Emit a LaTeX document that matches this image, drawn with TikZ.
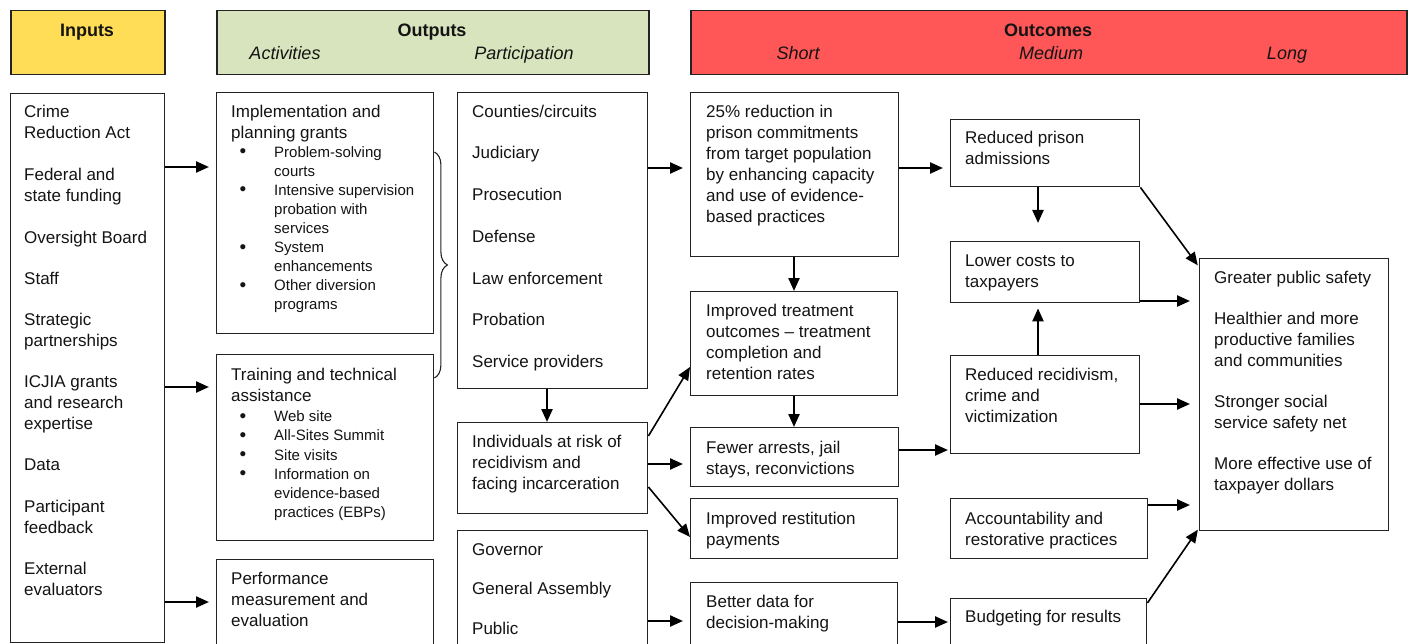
\documentclass[tikz,border=0pt]{standalone}
\usepackage{fontspec}
\setmainfont{Liberation Sans}
\usetikzlibrary{arrows.meta,decorations.pathreplacing}
\definecolor{hdryellow}{RGB}{255,221,87}
\definecolor{hdrgreen}{RGB}{215,228,189}
\definecolor{hdrred}{RGB}{255,87,87}
\definecolor{edge}{RGB}{35,35,35}
\definecolor{ink}{RGB}{20,20,20}
\tikzset{
 box/.style={draw=edge, line width=1.4pt, anchor=north west, inner sep=0pt, fill=white},
 hdr/.style={box, line width=1.5pt},
 txt/.style={anchor=north west, inner sep=0pt, align=left, text=ink, font=\fontsize{17}{21}\selectfont},
 btxt/.style={txt, font=\fontsize{15}{19}\selectfont},
 btxtb/.style={txt, font=\fontsize{15}{19.2}\selectfont},
 dot/.style={anchor=base, inner sep=0pt, text=ink, font=\fontsize{19}{19}\selectfont},
 htitle/.style={anchor=base, inner sep=0pt, text=ink, font=\fontsize{18}{22}\selectfont\bfseries},
 hsub/.style={anchor=base, inner sep=0pt, text=ink, font=\fontsize{18}{22}\selectfont\itshape},
 arr/.style={draw=black, line width=2.3pt, -{Triangle[length=13pt,width=11pt]}},
 darr/.style={arr, line width=1.6pt},
}
\begin{document}
\begin{tikzpicture}[x=1pt,y=-1pt]
\useasboundingbox (0,0) rectangle (1412,644);
\fill[white] (0,0) rectangle (1412,644);
\clip (0,0) rectangle (1412,644);

% headers
\node[hdr, fill=hdryellow, minimum width=154pt, minimum height=64pt] (hin) at (10,10) {};
\node[hdr, fill=hdrgreen, minimum width=432pt, minimum height=64pt] (hout) at (216,10) {};
\node[hdr, fill=hdrred, minimum width=716pt, minimum height=64pt] (hoc) at (690,10) {};
\node[htitle] (tin) at (87,37) {Inputs};
\node[htitle] (tout) at (432,37) {Outputs};
\node[htitle] (toc) at (1048,37) {Outcomes};
\node[hsub] (sact) at (285,60) {Activities};
\node[hsub] (spart) at (524,60) {Participation};
\node[hsub] (sshort) at (798,60) {Short};
\node[hsub] (smed) at (1051,60) {Medium};
\node[hsub] (slong) at (1287,60) {Long};

% boxes
\node[box, minimum width=154pt, minimum height=549pt] (inputs) at (10,93) {};
\node[box, minimum width=217pt, minimum height=241pt] (impl) at (216,92) {};
\node[box, minimum width=217pt, minimum height=186pt] (train) at (216,354) {};
\node[box, minimum width=217pt, minimum height=120pt] (perf) at (216,559) {};
\node[box, minimum width=190pt, minimum height=296pt] (part) at (457,92) {};
\node[box, minimum width=190pt, minimum height=91pt] (indiv) at (457,422) {};
\node[box, minimum width=190pt, minimum height=150pt] (gov) at (457,530) {};
\node[box, minimum width=208pt, minimum height=164pt] (red25) at (690,92) {};
\node[box, minimum width=207pt, minimum height=104pt] (imptreat) at (690,291) {};
\node[box, minimum width=208pt, minimum height=59pt] (fewer) at (690,427) {};
\node[box, minimum width=207pt, minimum height=60pt] (restit) at (690,498) {};
\node[box, minimum width=207pt, minimum height=100pt] (better) at (690,582) {};
\node[box, minimum width=189pt, minimum height=67pt] (redprison) at (950,119) {};
\node[box, minimum width=189pt, minimum height=61pt] (lower) at (950,241) {};
\node[box, minimum width=189pt, minimum height=98pt] (redrecid) at (950,355) {};
\node[box, minimum width=197pt, minimum height=60pt] (account) at (950,498) {};
\node[box, minimum width=196pt, minimum height=80pt] (budget) at (950,598) {};
\node[box, minimum width=189pt, minimum height=272pt] (long) at (1199,258) {};

% texts
\node[txt] (inputsT) at (24,102.3) {\strut Crime\\Reduction Act\\[21pt]Federal and\\state funding\\[21pt]Oversight Board\\[20pt]Staff\\[20pt]Strategic\\partnerships\\[20pt]ICJIA grants\\and research\\expertise\\[20pt]Data\\[21pt]Participant\\feedback\\[20pt]External\\evaluators};

\node[txt] (implT) at (231,102.3) {\strut Implementation and\\planning grants};
\node[btxt] (implB) at (274,144) {\strut Problem-solving\\courts\\Intensive supervision\\probation with\\services\\System\\enhancements\\Other diversion\\programs};
\node[dot] (d1) at (243,158) {•};
\node[dot] (d2) at (243,196) {•};
\node[dot] (d3) at (243,253) {•};
\node[dot] (d4) at (243,291) {•};

\node[txt] (trainT) at (231,365.3) {\strut Training and technical\\assistance};
\node[btxtb] (trainB) at (274,408) {\strut Web site\\All-Sites Summit\\Site visits\\Information on\\evidence-based\\practices (EBPs)};
\node[dot] (d5) at (243,422) {•};
\node[dot] (d6) at (243,441.2) {•};
\node[dot] (d7) at (243,460.4) {•};
\node[dot] (d8) at (243,479.6) {•};

\node[txt] (perfT) at (231,569.3) {\strut Performance\\measurement and\\evaluation};

\node[txt] (partT) at (472,102.3) {\strut Counties/circuits\\[20.7pt]Judiciary\\[20.7pt]Prosecution\\[20.7pt]Defense\\[20.7pt]Law enforcement\\[20.7pt]Probation\\[20.7pt]Service providers};
\node[txt] (indivT) at (472,432.3) {\strut Individuals at risk of\\recidivism and\\facing incarceration};
\node[txt] (govT) at (472,540.3) {\strut Governor\\[18.5pt]General Assembly\\[18.5pt]Public};

\node[txt] (red25T) at (706,102.3) {\strut 25\% reduction in\\prison commitments\\from target population\\by enhancing capacity\\and use of evidence-\\based practices};
\node[txt] (imptreatT) at (706,301.3) {\strut Improved treatment\\outcomes – treatment\\completion and\\retention rates};
\node[txt] (fewerT) at (706,438.3) {\strut Fewer arrests, jail\\stays, reconvictions};
\node[txt] (restitT) at (706,509.3) {\strut Improved restitution\\payments};
\node[txt] (betterT) at (706,592.3) {\strut Better data for\\decision-making};

\node[txt] (redprisonT) at (965,128.3) {\strut Reduced prison\\admissions};
\node[txt] (lowerT) at (965,251.3) {\strut Lower costs to\\taxpayers};
\node[txt] (redrecidT) at (965,365.3) {\strut Reduced recidivism,\\crime and\\victimization};
\node[txt] (accountT) at (965,509.3) {\strut Accountability and\\restorative practices};
\node[txt] (budgetT) at (965,607.3) {\strut Budgeting for results};

\node[txt] (longT) at (1214,268.3) {\strut Greater public safety\\[20pt]Healthier and more\\productive families\\and communities\\[20pt]Stronger social\\service safety net\\[20pt]More effective use of\\taxpayer dollars};

% brace
\draw[draw=edge, line width=1.1pt, decorate, decoration={brace, amplitude=13pt}] (impl.east |- 0,152) -- (impl.east |- 0,378);

% connectors
\draw[arr, shorten >=7pt] (inputs.east |- 0,167) -- (impl.west |- 0,167);
\draw[arr, shorten >=7pt] (inputs.east |- 0,387) -- (train.west |- 0,387);
\draw[arr, shorten >=7pt] (inputs.east |- 0,602) -- (perf.west |- 0,602);
\draw[arr, shorten >=7pt] (part.east |- 0,168) -- (red25.west |- 0,168);
\draw[arr] (part.south -| 547,0) -- (indiv.north -| 547,0);
\draw[darr] (indiv.east |- 0,436) -- (imptreat.west |- 0,367);
\draw[arr, shorten >=7pt] (indiv.east |- 0,464) -- (fewer.west |- 0,464);
\draw[darr] (indiv.east |- 0,487) -- (restit.west |- 0,537);
\draw[arr, shorten >=7pt] (gov.east |- 0,621) -- (better.west |- 0,621);
\draw[arr] (red25.south -| 794,0) -- (imptreat.north -| 794,0);
\draw[arr] (imptreat.south -| 794,0) -- (fewer.north -| 794,0);
\draw[arr, shorten >=7pt] (red25.east |- 0,168) -- (redprison.west |- 0,168);
\draw[arr, shorten >=2pt] (fewer.east |- 0,450) -- (redrecid.west |- 0,450);
\draw[arr, shorten >=2pt] (better.east |- 0,622) -- (budget.west |- 0,622);
\draw[arr, shorten >=18pt] (redprison.south -| 1038,0) -- (lower.north -| 1038,0);
\draw[arr, shorten >=5pt] (redrecid.north -| 1038,0) -- (lower.south -| 1038,0);
\draw[darr, shorten >=2pt] (redprison.south east) -- (long.west |- 0,267);
\draw[arr, shorten >=9pt] (lower.east |- 0,301) -- (long.west |- 0,301);
\draw[arr, shorten >=9pt] (redrecid.east |- 0,404) -- (long.west |- 0,404);
\draw[arr, shorten >=9pt] (account.east |- 0,505) -- (long.west |- 0,505);
\draw[darr, shorten >=2pt] (budget.east |- 0,603) -- (long.west |- 0,528);
\end{tikzpicture}
\end{document}
